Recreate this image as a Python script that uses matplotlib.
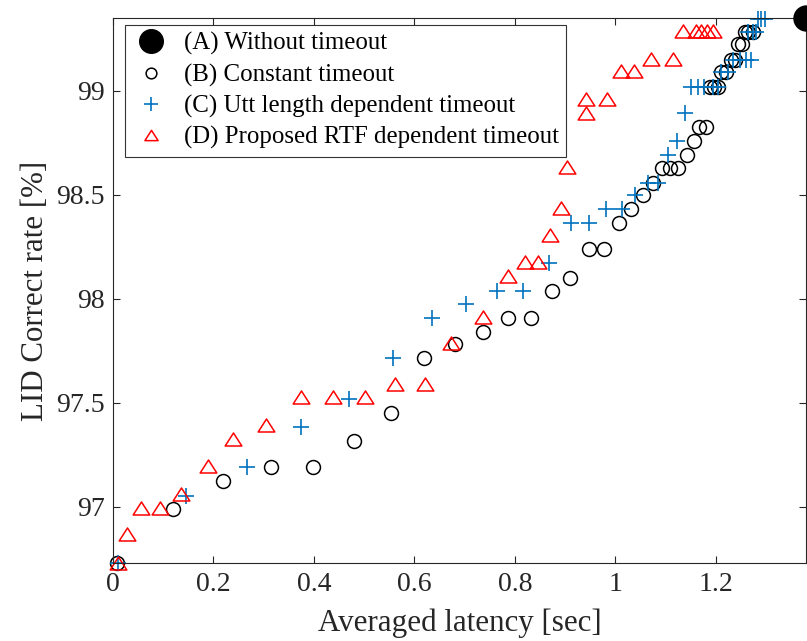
import matplotlib
matplotlib.use('Agg')
import matplotlib.pyplot as plt
from matplotlib.path import Path

plt.rcParams['font.family'] = ['Liberation Serif', 'DejaVu Serif']
plt.rcParams['mathtext.fontset'] = 'stix'

# (A) without timeout
a_lat = [1.379]
a_acc = [99.348]

# (B) constant timeout
b_lat = [0.009, 0.120, 0.220, 0.315, 0.399, 0.480, 0.554, 0.619, 0.681, 0.737,
         0.786, 0.832, 0.873, 0.910, 0.948, 0.978, 1.006, 1.031, 1.055, 1.075,
         1.092, 1.109, 1.124, 1.142, 1.156, 1.167, 1.181, 1.188, 1.196, 1.204,
         1.210, 1.220, 1.230, 1.237, 1.243, 1.251, 1.257, 1.264, 1.273]
b_acc = [96.731, 96.988, 97.124, 97.189, 97.189, 97.316, 97.452, 97.713, 97.781, 97.840,
         97.906, 97.906, 98.036, 98.101, 98.238, 98.238, 98.365, 98.430, 98.499, 98.558,
         98.627, 98.627, 98.627, 98.691, 98.760, 98.827, 98.827, 99.019, 99.019, 99.019,
         99.091, 99.091, 99.148, 99.148, 99.223, 99.223, 99.284, 99.284, 99.284]

# (C) utt length dependent timeout
c_lat = [0.011, 0.146, 0.267, 0.375, 0.470, 0.557, 0.636, 0.703, 0.764, 0.817,
         0.868, 0.911, 0.948, 0.981, 1.012, 1.039, 1.065, 1.085, 1.105, 1.122,
         1.138, 1.151, 1.164, 1.177, 1.194, 1.204, 1.210, 1.223, 1.233, 1.247,
         1.260, 1.270, 1.264, 1.273, 1.280, 1.283, 1.290, 1.297]
c_acc = [96.731, 97.053, 97.189, 97.382, 97.516, 97.713, 97.906, 97.973, 98.036, 98.036,
         98.170, 98.365, 98.365, 98.430, 98.430, 98.499, 98.558, 98.558, 98.691, 98.760,
         98.891, 99.019, 99.019, 99.019, 99.019, 99.019, 99.091, 99.091, 99.148, 99.148,
         99.148, 99.148, 99.284, 99.284, 99.284, 99.343, 99.343, 99.343]

# (D) proposed RTF dependent timeout
d_lat = [0.011, 0.029, 0.057, 0.094, 0.136, 0.189, 0.239, 0.304, 0.375, 0.439,
         0.502, 0.562, 0.622, 0.672, 0.737, 0.787, 0.820, 0.845, 0.870, 0.891,
         0.904, 0.941, 0.941, 0.984, 1.011, 1.0375, 1.071, 1.114, 1.134, 1.160,
         1.170, 1.183, 1.193]
d_acc = [96.731, 96.869, 96.995, 96.995, 97.061, 97.196, 97.324, 97.393, 97.526, 97.526,
         97.526, 97.588, 97.588, 97.786, 97.913, 98.109, 98.176, 98.176, 98.306, 98.438,
         98.631, 98.894, 98.960, 98.960, 99.094, 99.094, 99.152, 99.152, 99.287, 99.287,
         99.287, 99.287, 99.287]

labels = ['(A) Without timeout', '(B) Constant timeout',
          '(C) Utt length dependent timeout', '(D) Proposed RTF dependent timeout']

axcol = '#262626'

# matlab style triangle: a bit wider than tall
tri = Path([(-1, -0.78), (1, -0.78), (0, 0.78), (-1, -0.78)],
           [Path.MOVETO, Path.LINETO, Path.LINETO, Path.CLOSEPOLY])

fig = plt.figure(figsize=(8.07, 6.41), dpi=100)
ax = fig.add_axes([0.1397, 0.1222, 0.8591, 0.8493])

ax.plot(a_lat, a_acc, 'o', color='k', ms=18, ls='none', clip_on=False, label=labels[0], zorder=5)
ax.plot(b_lat, b_acc, 'o', mfc='none', mec='k', ms=10, mew=1.1, ls='none',
        clip_on=False, label=labels[1])
ax.plot(c_lat, c_acc, '+', color='#0072BD', ms=11, mew=1.2, ls='none',
        clip_on=False, label=labels[2])
ax.plot(d_lat, d_acc, marker=tri, mfc='none', mec='#FF0000', ms=12, mew=1.1, ls='none',
        clip_on=False, label=labels[3])

ax.set_xlim(0, 1.379)
ax.set_ylim(96.731, 99.348)
ax.set_xticks([0, 0.2, 0.4, 0.6, 0.8, 1, 1.2])
ax.set_xticklabels(['0', '0.2', '0.4', '0.6', '0.8', '1', '1.2'])
ax.set_yticks([97, 97.5, 98, 98.5, 99])
ax.set_yticklabels(['97', '97.5', '98', '98.5', '99'])

ax.tick_params(direction='in', top=True, right=True, length=5, width=0.8,
               colors=axcol, labelsize=20, labelcolor=axcol, pad=6)
ax.tick_params(axis='x', pad=7)
for s in ax.spines.values():
    s.set_color(axcol)
    s.set_linewidth(0.8)

ax.set_xlabel('Averaged latency [sec]', fontsize=22.3, color=axcol, labelpad=8)
ax.set_ylabel('LID Correct rate [%]', fontsize=22.3, color=axcol, labelpad=4)

leg = ax.legend(loc='upper left', bbox_to_anchor=(0.018, 0.988), fontsize=17.9,
                frameon=True, fancybox=False, edgecolor='k', borderpad=0.3,
                labelspacing=0.33, handletextpad=0.55, handlelength=1.5,
                markerscale=1.0, borderaxespad=0)
leg.get_frame().set_linewidth(0.8)
hs = leg.legend_handles
hs[0].set_markersize(17)
hs[1].set_markersize(7.7)
hs[2].set_markersize(10)
hs[3].set_markersize(9.5)

fig.savefig('out.png', dpi=100)
